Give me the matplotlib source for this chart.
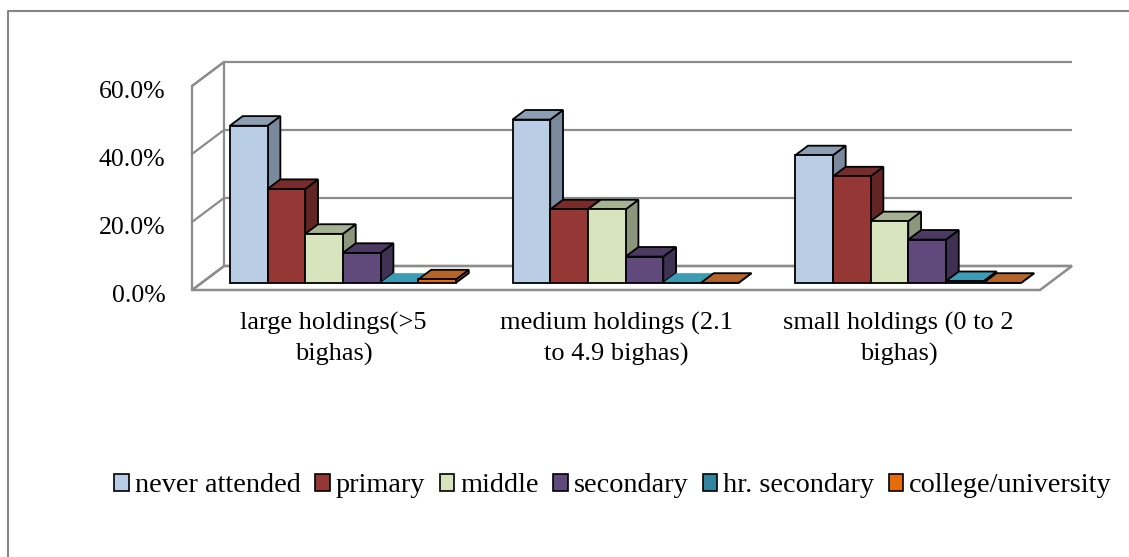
import matplotlib
matplotlib.use("Agg")
import matplotlib.pyplot as plt
import matplotlib.transforms as mtransforms
from matplotlib.patches import Polygon, Patch
from matplotlib.lines import Line2D

# ---------------- data ----------------
categories = ["large holdings(>5\nbighas)",
              "medium holdings (2.1\nto 4.9 bighas)",
              "small holdings (0 to 2\nbighas)"]
series_names = ["never attended", "primary", "middle", "secondary",
                "hr. secondary", "college/university"]
never_attended = [46.2, 48.0, 37.5]
primary = [27.6, 21.6, 31.3]
middle = [14.4, 21.6, 18.1]
secondary = [8.8, 7.7, 12.7]
hr_secondary = [0.0, 0.0, 0.5]
college_university = [1.0, 0.0, 0.0]
y_ticks = [0, 20, 40, 60]
y_tick_labels = ["0.0%", "20.0%", "40.0%", "60.0%"]

series_values = [never_attended, primary, middle, secondary,
                 hr_secondary, college_university]

# ---------------- style ----------------
front_colors = ["#B9CDE5", "#953735", "#D7E4BD", "#604A7B", "#31859C", "#E46C0A"]
top_colors = ["#8E9FB3", "#772B2A", "#A7B294", "#4B3A61", "#3D9BB3", "#B5652B"]
side_colors = ["#7A899B", "#632424", "#8C967C", "#3F3152", "#2A7385", "#9C5524"]
grid_color = "#8C8C8C"

W, H = 1129, 557
plt.rcParams['font.family'] = ['Liberation Serif', 'DejaVu Serif']
fig = plt.figure(figsize=(W / 100, H / 100), dpi=100)

# front plane of the plot area in pixels
L, R, T, B = 192, 1040, 86, 290
ax = fig.add_axes([L / W, 1 - B / H, (R - L) / W, (B - T) / H])
ncat = len(categories)
ax.set_xlim(0, ncat)
ax.set_ylim(0, y_ticks[-1])
ax.patch.set_visible(False)
for s in ax.spines.values():
    s.set_visible(False)

# depth of the 3-D box, converted to data units
DX_PX, DY_PX = 32, 24
dx = DX_PX / ((R - L) / ncat)
dy = DY_PX / ((B - T) / y_ticks[-1])
ymax = y_ticks[-1]

# walls and floor
floor = Polygon([(0, 0), (ncat, 0), (ncat + dx, dy), (dx, dy)], closed=True,
                facecolor="white", edgecolor=grid_color, lw=1.8, zorder=1,
                clip_on=False)
ax.add_patch(floor)
wall = Polygon([(0, 0), (0, ymax), (dx, ymax + dy), (dx, dy)], closed=True,
               facecolor="white", edgecolor=grid_color, lw=1.6, zorder=1,
               clip_on=False)
ax.add_patch(wall)
for v in y_ticks:
    ax.plot([dx, ncat + dx], [v + dy, v + dy], color=grid_color, lw=1.6,
            zorder=2, clip_on=False, solid_capstyle='butt')
    ax.plot([0, dx], [v, v + dy], color=grid_color, lw=1.6, zorder=2,
            clip_on=False)

# bars
nser = len(series_names)
gap = 1.5
w = 1.0 / (nser + gap)
f0, f1 = 0.3, 0.7
ddx = (f1 - f0) * dx
ddy = (f1 - f0) * dy
for i, vals in enumerate(series_values):
    xs = [c + gap / 2 * w + i * w + f0 * dx for c in range(ncat)]
    base = f0 * dy
    zero_flat = (i == 4)
    for x0, v in zip(xs, vals):
        no_edge = zero_flat and v == 0
        ec = "none" if no_edge else "black"
        side = Polygon([(x0 + w, base), (x0 + w, base + v),
                        (x0 + w + ddx, base + v + ddy), (x0 + w + ddx, base + ddy)],
                       closed=True, facecolor=side_colors[i], edgecolor=ec,
                       lw=1.3, zorder=10 + 2 * i, clip_on=False, joinstyle='miter')
        top = Polygon([(x0, base + v), (x0 + w, base + v),
                       (x0 + w + ddx, base + v + ddy), (x0 + ddx, base + v + ddy)],
                      closed=True, facecolor=top_colors[i], edgecolor=ec,
                      lw=1.3, zorder=10 + 2 * i, clip_on=False, joinstyle='miter')
        ax.add_patch(side)
        ax.add_patch(top)
    ax.bar(xs, vals, width=w, bottom=f0 * dy, align='edge',
           color=front_colors[i], edgecolor="black",
           linewidth=1.3, zorder=11 + 2 * i, clip_on=False)

# ticks
ax.set_yticks(y_ticks)
ax.set_yticklabels(y_tick_labels, fontsize=18.5)
ax.set_xticks([c + 0.5 for c in range(ncat)])
ax.set_xticklabels(categories, fontsize=19, linespacing=1.42)
ax.tick_params(axis='y', length=0, pad=19)
ax.tick_params(axis='x', length=0, pad=16)
shift = mtransforms.ScaledTranslation(0, -3 / 100, fig.dpi_scale_trans)
for lab in ax.get_yticklabels():
    lab.set_transform(lab.get_transform() + shift)

# legend
handles = [Patch(facecolor=c, edgecolor="black", linewidth=1.2) for c in front_colors]
fig.legend(handles, series_names, loc='center',
           bbox_to_anchor=(613 / W, 1 - 486 / H), ncol=6, frameon=False,
           fontsize=20.3, handlelength=0.52, handleheight=0.52,
           handletextpad=0.2, columnspacing=0.52, borderaxespad=0)

# outer chart frame
fig.add_artist(Line2D([8 / W, 8 / W, 1.0], [0.0, 1 - 11 / H, 1 - 11 / H],
                      transform=fig.transFigure, color="#868686", lw=1.5))

fig.savefig("out.png", dpi=100)
